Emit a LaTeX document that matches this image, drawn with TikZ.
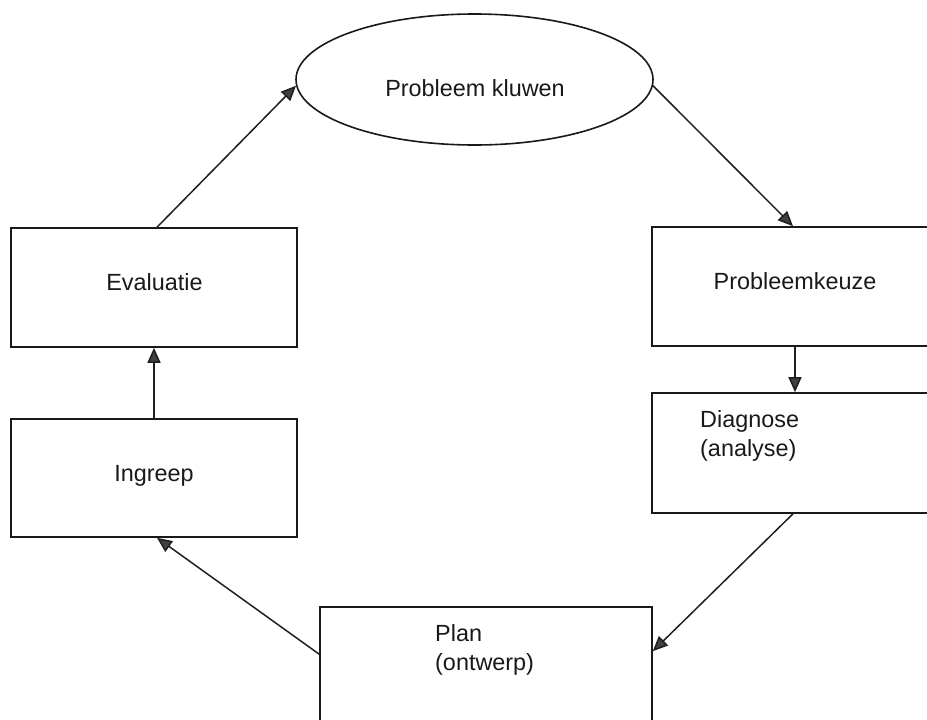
\documentclass[tikz,border=0pt]{standalone}
\usepackage{fontspec}
\setmainfont{Liberation Sans}
\usetikzlibrary{arrows.meta,shapes.geometric,calc}
\begin{document}
\begin{tikzpicture}[x=1pt,y=-1pt,
 box/.style={draw=black!90, line width=1.6pt, rectangle, inner sep=0pt},
 oval/.style={draw=black!90, line width=1.6pt, ellipse, inner sep=0pt},
 lbl/.style={font=\fontsize{23.4}{29}\selectfont, inner sep=0pt, text=black!90},
 arr/.style={draw=black!88, line width=1.5pt, -{Triangle[length=15pt,width=13pt,fill=black!75]}}
]
\fill[white] (0,0) rectangle (927,720);
\useasboundingbox (0,0) rectangle (927,720);

\node[box, minimum width=286pt, minimum height=119pt] (eval) at (154,287.5) {};
\node[box, minimum width=286pt, minimum height=118pt] (ingr) at (154,478) {};
\node[box, minimum width=286pt, minimum height=119pt] (keuze) at (795,286.5) {};
\node[box, minimum width=286pt, minimum height=120pt] (diag) at (795,453) {};
\node[box, minimum width=332pt, minimum height=120pt] (plan) at (486,667) {};
\node[oval, minimum width=357pt, minimum height=131pt] (ell) at (474.5,79.5) {};

\node[lbl, anchor=base] (tell) at (475,96.5) {Probleem kluwen};
\node[lbl, anchor=base] (teval) at (154.5,290.5) {Evaluatie};
\node[lbl, anchor=base] (tingr) at (154,481.5) {Ingreep};
\node[lbl, anchor=base] (tkeuze) at (795,289) {Probleemkeuze};
\node[lbl, anchor=base west] (tdiag1) at (700,427.5) {Diagnose};
\node[lbl, anchor=base west] (tdiag2) at (700,456.5) {(analyse)};
\node[lbl, anchor=base west] (tplan1) at (435,641.5) {Plan};
\node[lbl, anchor=base west] (tplan2) at (435,670.5) {(ontwerp)};

\draw[arr] ([xshift=3pt]eval.north) -- (ell.182);
\draw[arr] (ell.-2) -- ([xshift=-2pt]keuze.north);
\draw[arr] (keuze.south) -- (diag.north);
\draw[arr] ([xshift=-2pt]diag.south) -- ([yshift=-45pt]plan.north east);
\draw[arr] ([yshift=-48pt]plan.north west) -- ([xshift=3pt]ingr.south);
\draw[arr] (ingr.north) -- (eval.south);
\end{tikzpicture}
\end{document}
